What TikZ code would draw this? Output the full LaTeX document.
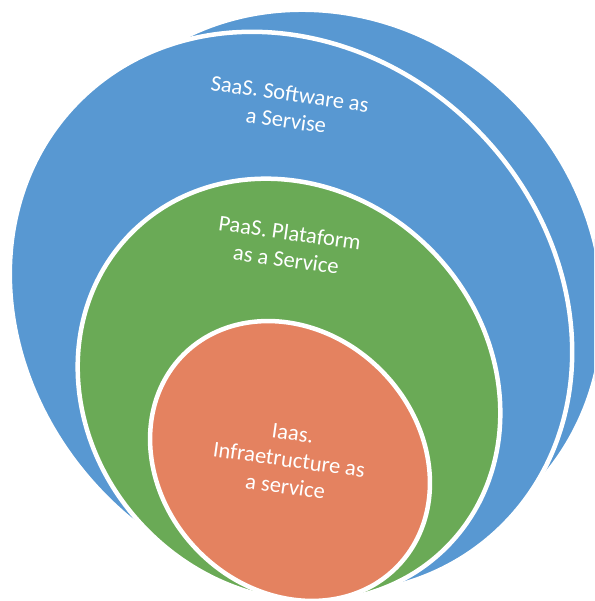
\documentclass[tikz,border=0pt]{standalone}
\usepackage{fontspec}
\setmainfont{Carlito}
\usetikzlibrary{shapes.geometric}
\definecolor{saasblue}{RGB}{88,152,210}
\definecolor{paasgreen}{RGB}{106,170,86}
\definecolor{iaasorange}{RGB}{228,130,96}
\tikzstyle{ring} = [ellipse, draw=white, line width=4.5pt, inner sep=0pt, rotate=-45]
\tikzstyle{ringtext} = [text=white, align=center, rotate=-8, inner sep=1pt, font=\fontsize{22.5}{27}\selectfont]

\begin{document}
\begin{tikzpicture}[x=1pt, y=1pt]
    \useasboundingbox (0,0) rectangle (594,601);
    \clip (0,0) rectangle (594,601);
    % the three layers, back to front
    \node(saasback) [ring, fill=saasblue, minimum width=578pt, minimum height=530pt] at (326,314) {};
    \node(saas) [ring, fill=saasblue, minimum width=600pt, minimum height=522pt] at (291,288) {};
    \node(paas) [ring, fill=paasgreen, minimum width=445pt, minimum height=399pt] at (289,211) {};
    \node(iaas) [ring, fill=iaasorange, minimum width=301pt, minimum height=257pt] at (290,140) {};
    % labels
    \node(saaslabel) [ringtext] at (288,494) {SaaS. Software as\\a Servise};
    \node(paaslabel) [ringtext] at (288,355) {PaaS. Plataform\\as a Service};
    \node(iaaslabel) [ringtext] at (289,141) {Iaas.\\Infraetructure as\\a service};
\end{tikzpicture}
\end{document}
